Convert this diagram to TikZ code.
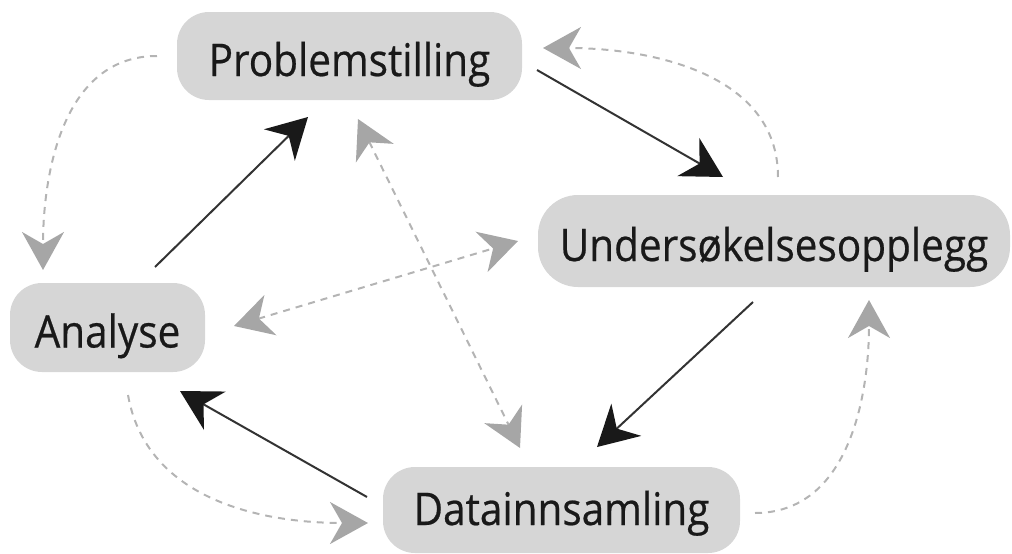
\documentclass[tikz,border=0pt]{standalone}
\usepackage{fontspec}
\newfontfamily\stagefont{Open Sans}[FakeStretch=0.9, FakeBold=0.5]
\usetikzlibrary{arrows.meta}
\definecolor{boxgray}{HTML}{D6D6D6}
\definecolor{headgray}{HTML}{A6A6A6}
\definecolor{dashgray}{HTML}{B4B4B4}
\definecolor{linedark}{HTML}{333333}
\tikzset{
  stagebox/.style={fill=boxgray, draw=none, rounded corners=32pt, inner sep=0pt,
    text height=40pt, text depth=0pt, font=\stagefont\fontsize{45}{50}\selectfont, text=black!90},
  mainarrow/.style={draw=linedark, line width=2pt,
    -{Stealth[length=40pt, width=44pt, inset=13pt, fill=black!90, color=black!90]}},
  sidearrow/.style={draw=dashgray, line width=2pt, dash pattern=on 7pt off 6pt,
    -{Stealth[length=38pt, width=42pt, inset=12pt, fill=headgray, color=headgray]}},
  twoarrow/.style={draw=dashgray, line width=2pt, dash pattern=on 7pt off 6pt,
    {Stealth[length=38pt, width=42pt, inset=12pt, fill=headgray, color=headgray]}-{Stealth[length=38pt, width=42pt, inset=12pt, fill=headgray, color=headgray]}}
}
\begin{document}
\begin{tikzpicture}[x=1pt, y=-1pt]
\useasboundingbox (0,0) rectangle (1012,554);
\node[stagebox, minimum width=345pt, minimum height=88pt] (P) at (349.5,56) {Problemstilling};
\node[stagebox, minimum width=472pt, minimum height=92pt, rounded corners=40pt] (U) at (774,241) {Undersøkelsesopplegg};
\node[stagebox, minimum width=195pt, minimum height=89pt] (A) at (107.5,327.5) {Analyse};
\node[stagebox, minimum width=357pt, minimum height=86pt, text height=30pt] (D) at (561.5,510) {Datainnsamling};
% solid cycle
\coordinate (p1) at (537,70);  \coordinate (u1) at (723,177);
\coordinate (u2) at (753,302); \coordinate (d2) at (597,447);
\coordinate (d3) at (367,497); \coordinate (a3) at (180,391);
\coordinate (a4) at (155,267); \coordinate (p4) at (308,117);
\draw[mainarrow] (p1) -- (u1);
\draw[mainarrow] (u2) -- (d2);
\draw[mainarrow] (d3) -- (a3);
\draw[mainarrow] (a4) -- (p4);
% dashed curves
\coordinate (p5) at (157,56);  \coordinate (a5) at (43,270);
\coordinate (u6) at (778,177); \coordinate (p6) at (543,48);
\coordinate (d7) at (755,513); \coordinate (u7) at (869,300);
\coordinate (a8) at (128,395); \coordinate (d8) at (368,523);
\draw[sidearrow] (p5) to[out=180, in=90] (a5);
\draw[sidearrow] (u6) to[out=90, in=0] (p6);
\draw[sidearrow] (d7) to[out=0, in=-90] (u7);
\draw[sidearrow] (a8) to[out=-80, in=180] (d8);
% dashed straight two-way
\coordinate (p9) at (358,119); \coordinate (d9) at (520,448);
\coordinate (a10) at (234,326); \coordinate (u10) at (518,241);
\draw[twoarrow] (p9) -- (d9);
\draw[twoarrow] (a10) -- (u10);
\end{tikzpicture}
\end{document}
